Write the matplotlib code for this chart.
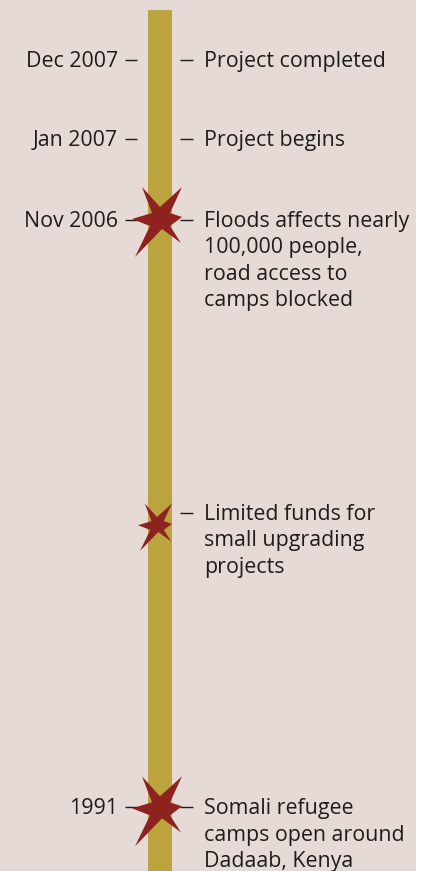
import numpy as np
import matplotlib.pyplot as plt
from matplotlib.path import Path
from matplotlib.transforms import ScaledTranslation

# timeline data
dates = ["Dec 2007", "Jan 2007", "Nov 2006", "", "1991"]
events = [
    "Project completed",
    "Project begins",
    "Floods affects nearly\n100,000 people,\nroad access to\ncamps blocked",
    "Limited funds for\nsmall upgrading\nprojects",
    "Somali refugee\ncamps open around\nDadaab, Kenya",
]
event_rows = [0.0, 1.0, 2.02, 5.73, 9.46]

# crisis markers (stars)
star_rows = [2.0, 5.88, 9.46]
star_cols = [160, 157, 160]
star_scale = [1.0, 0.68, 1.0]

bg = "#e6dad6"
bar_color = "#bba33d"
star_color = "#8e2220"
txt = "#1e1c1c"
fs = 15.4
px = 1 / 100.0  # inches per pixel
line_px = 26.5

fig = plt.figure(figsize=(4.25, 8.71), dpi=100)
fig.patch.set_facecolor("white")
ax = fig.add_axes([0, 0, 416 / 425, 1])
ax.set_facecolor(bg)
ax.set_xlim(0, 416)
ax.set_ylim(10.266, -0.7595)
ax.set_xticks([])
ax.set_yticks([])
for s in ax.spines.values():
    s.set_visible(False)

# the vertical timeline bar
ax.bar(160, 12, bottom=-0.633, width=24, color=bar_color, zorder=1)

# irregular six-point star marker
star = [(-18, -31), (0, -11), (22, -31), (10, -5), (22, -1), (10, 8),
        (21, 25), (2, 11), (-25, 39), (-10, 8), (-28, 1), (-8, -5)]
verts = [(x, -y) for x, y in star] + [(-18, 31)]
codes = [Path.MOVETO] + [Path.LINETO] * (len(star) - 1) + [Path.CLOSEPOLY]
star_path = Path(verts, codes)
ms = 78 * 0.72
ax.scatter(star_cols, star_rows, s=(ms * np.array(star_scale)) ** 2,
           marker=star_path, color=star_color, linewidths=0, zorder=3)

# tick dashes either side of the bar
left_rows = [r for d, r in zip(dates, event_rows) if d]
ax.hlines(left_rows, 125, 137, color=txt, lw=1.0, zorder=2)
ax.hlines(event_rows, 180, 193, color=txt, lw=1.0, zorder=2)


def shifted(dy_px):
    return ax.transData + ScaledTranslation(0, -dy_px * px, fig.dpi_scale_trans)


font = dict(family=["Open Sans", "DejaVu Sans"], fontsize=fs, color=txt)

for date, ev, row in zip(dates, events, event_rows):
    if date:
        ax.text(118, row, date, ha="right", va="baseline",
                transform=shifted(7), zorder=2, **font)
    for i, line in enumerate(ev.split("\n")):
        ax.text(204, row, line, ha="left", va="baseline",
                transform=shifted(7 + i * line_px), zorder=2, **font)

fig.savefig("out.png", dpi=100)
